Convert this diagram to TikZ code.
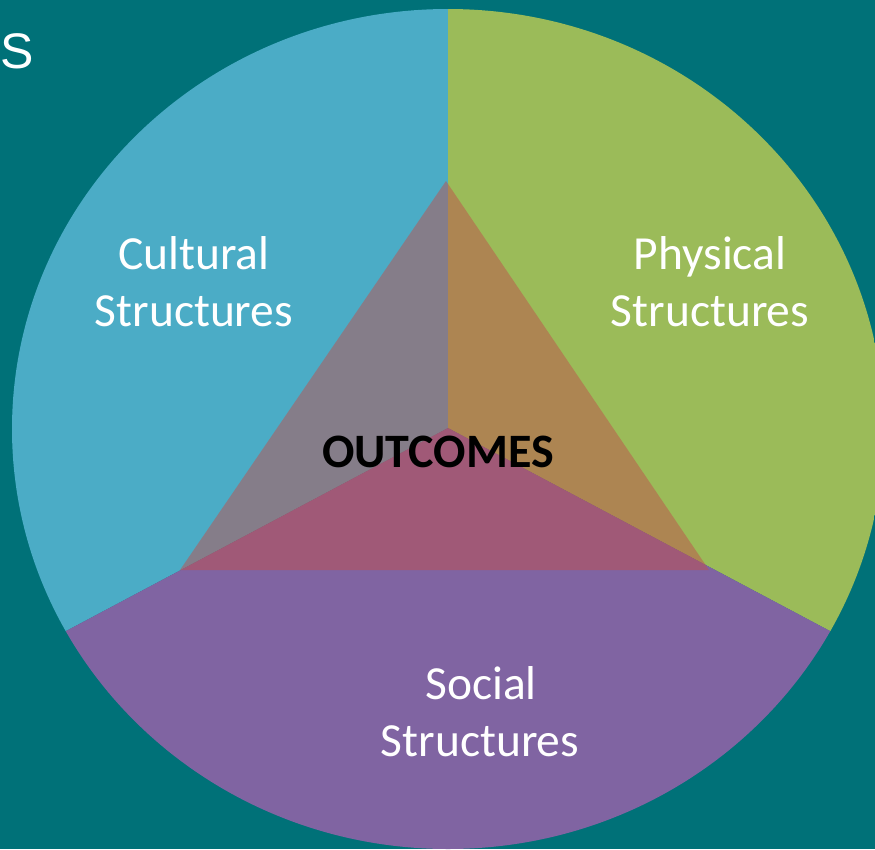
\documentclass[tikz,border=0pt]{standalone}
\usepackage{fontspec}
\setmainfont{Carlito}
\newfontfamily\arialfont{Liberation Sans}
\definecolor{bgteal}{HTML}{007178}
\definecolor{cultblue}{HTML}{4BACC6}
\definecolor{physgreen}{HTML}{9BBB59}
\definecolor{socpurple}{HTML}{8064A2}
\definecolor{outred}{HTML}{C0504D}
\tikzset{
  lbl/.style={text=white, inner sep=0pt, anchor=base, font=\fontsize{47.5}{57}\selectfont},
  outlbl/.style={text=black, inner sep=0pt, anchor=base, font=\fontsize{48}{57}\selectfont\bfseries}
}
\begin{document}
\begin{tikzpicture}[x=1pt,y=-1pt]
\fill[bgteal] (0,0) rectangle (875,849);
\useasboundingbox (0,0) rectangle (875,849);
\coordinate (c) at (448,428);
\begin{scope}
  \clip (448,429) ellipse [x radius=436, y radius=420];
  \fill[cultblue] (c) -- (448,-100) -- (-316,-100) -- (-316,834) -- cycle;
  \fill[physgreen] (c) -- (448,-100) -- (1212,-100) -- (1212,834) -- cycle;
  \fill[socpurple] (c) -- (-316,834) -- (-316,1000) -- (1212,1000) -- (1212,834) -- cycle;
\end{scope}
\fill[outred, fill opacity=0.5] (446,181) -- (709,570) -- (180,570) -- cycle;
\node[lbl] (cult1) at (194,269) {Cultural};
\node[lbl] (cult2) at (194,326) {Structures};
\node[lbl] (phys1) at (710,269) {Physical};
\node[lbl] (phys2) at (710,326) {Structures};
\node[lbl] (soc1) at (481,699) {Social};
\node[lbl] (soc2) at (480,756) {Structures};
\node[outlbl] (out) at (438,467) {OUTCOMES};
\node[text=white, inner sep=0pt, anchor=base west, font=\arialfont\fontsize{50}{60}\selectfont] (s) at (0,68) {S};
\end{tikzpicture}
\end{document}
